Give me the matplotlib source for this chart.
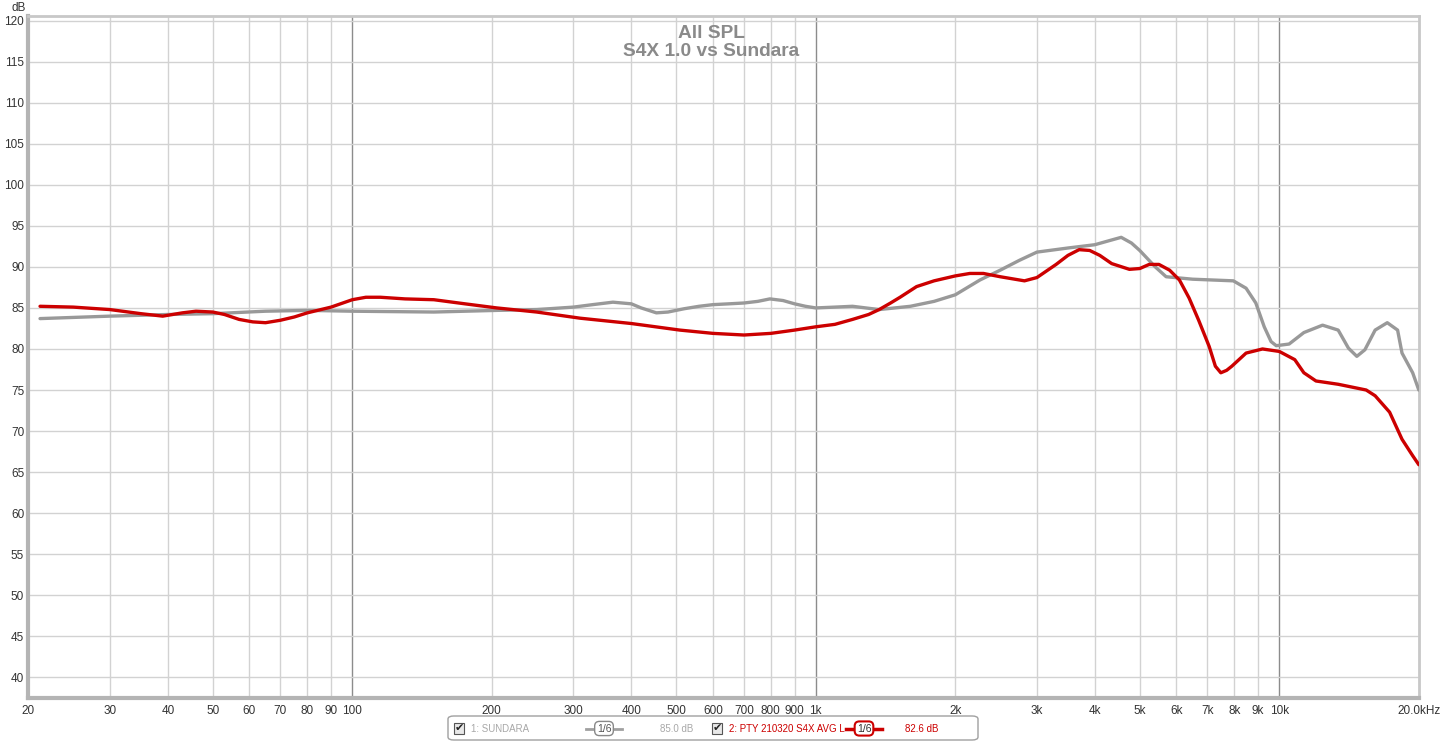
import matplotlib.pyplot as plt
from matplotlib.patches import FancyBboxPatch, Rectangle
from matplotlib.lines import Line2D
from matplotlib.ticker import FixedLocator, NullLocator

plt.rcParams["font.family"] = ["Liberation Sans", "DejaVu Sans"]

# PTY S4X (red)
red_freq = [21.2, 25, 30, 35, 39, 43, 46, 50, 53, 57, 61, 65, 70, 75, 80, 90,
            100, 107, 115, 130, 150, 175, 205, 250, 310, 400, 509, 600, 700,
            800, 900, 1000, 1100, 1200, 1300, 1370, 1450, 1520, 1650, 1800,
            2000, 2150, 2300, 2500, 2820, 3000, 3300, 3500, 3700, 3900, 4100,
            4350, 4750, 5000, 5240, 5500, 5800, 6090, 6390, 6700, 7060, 7280,
            7480, 7700, 7900, 8480, 9200, 10000, 10800, 11300, 12000, 13400,
            15400, 16100, 17300, 18400, 19400, 20000]
red_db = [85.2, 85.1, 84.8, 84.3, 84.0, 84.4, 84.6, 84.5, 84.2, 83.6, 83.3,
          83.2, 83.5, 83.9, 84.4, 85.1, 86.0, 86.3, 86.3, 86.1, 86.0, 85.5,
          85.0, 84.5, 83.75, 83.1, 82.3, 81.9, 81.7, 81.9, 82.3, 82.7, 83.0,
          83.6, 84.2, 84.8, 85.6, 86.3, 87.6, 88.3, 88.9, 89.2, 89.2, 88.8,
          88.3, 88.7, 90.3, 91.4, 92.1, 92.0, 91.4, 90.4, 89.7, 89.8, 90.3,
          90.3, 89.6, 88.4, 86.2, 83.5, 80.3, 77.9, 77.1, 77.4, 77.9, 79.5,
          80.0, 79.7, 78.7, 77.1, 76.1, 75.7, 75.0, 74.3, 72.3, 69.0, 67.0,
          65.9]

# Sundara (gray)
gray_freq = [21.2, 30, 40, 50, 65, 80, 100, 150, 205, 250, 300, 330, 365, 400,
             420, 453, 480, 520, 560, 600, 650, 700, 750, 796, 850, 900, 950,
             1000, 1100, 1200, 1370, 1600, 1800, 2000, 2260, 2500, 2750, 3000,
             3500, 4000, 4300, 4560, 4800, 5000, 5400, 5700, 6500, 7960, 8480,
             8900, 9280, 9600, 9850, 10500, 11300, 12400, 13400, 14100, 14700,
             15300, 16100, 17100, 18000, 18400, 19400, 20000]
gray_db = [83.7, 84.0, 84.2, 84.3, 84.6, 84.7, 84.6, 84.5, 84.7, 84.8, 85.1,
           85.4, 85.7, 85.5, 85.0, 84.4, 84.5, 84.9, 85.2, 85.4, 85.5, 85.6,
           85.8, 86.1, 85.9, 85.5, 85.2, 85.0, 85.1, 85.2, 84.8, 85.2, 85.8,
           86.6, 88.4, 89.6, 90.8, 91.8, 92.3, 92.7, 93.2, 93.6, 92.9, 92.0,
           90.0, 88.8, 88.5, 88.3, 87.4, 85.6, 82.7, 80.9, 80.4, 80.6, 82.0,
           82.9, 82.3, 80.1, 79.1, 79.9, 82.3, 83.2, 82.3, 79.5, 77.1, 75.0]

x_ticks = [20, 30, 40, 50, 60, 70, 80, 90, 100, 200, 300, 400, 500, 600, 700,
           800, 900, 1000, 2000, 3000, 4000, 5000, 6000, 7000, 8000, 9000,
           10000, 20000]
x_labels = ["20", "30", "40", "50", "60", "70", "80", "90", "100", "200", "300",
            "400", "500", "600", "700", "800", "900", "1k", "2k", "3k", "4k",
            "5k", "6k", "7k", "8k", "9k", "10k", "20.0kHz"]
y_ticks = list(range(40, 121, 5))

W, H = 1455, 743
fig = plt.figure(figsize=(W / 100, H / 100), dpi=100)
ax = fig.add_axes([28.3 / W, 45 / H, (1418.8 - 28.3) / W, (698 - 15.7) / H])

ax.set_xscale("log")
ax.set_xlim(20, 20000)
ax.set_ylim(37.48, 120.6)

for f in x_ticks[:-1]:
    if f in (100, 1000, 10000):
        ax.axvline(f, color="#8c8c8c", lw=1.0, zorder=1)
    else:
        ax.axvline(f, color="#d2d2d2", lw=1.0, zorder=1)
for y in y_ticks:
    ax.axhline(y, color="#d2d2d2", lw=1.0, zorder=1)

ax.plot(gray_freq, gray_db, color="#999999", lw=2.4, zorder=3,
        solid_joinstyle="round", solid_capstyle="round")
ax.plot(red_freq, red_db, color="#cc0000", lw=2.4, zorder=4,
        solid_joinstyle="round", solid_capstyle="round")

ax.xaxis.set_major_locator(FixedLocator(x_ticks))
ax.set_xticklabels(x_labels)
ax.xaxis.set_minor_locator(NullLocator())
ax.set_yticks(y_ticks)
ax.tick_params(axis="both", length=0, labelsize=8.5, colors="#333333")
ax.tick_params(axis="x", pad=5)
ax.tick_params(axis="y", pad=3)

for s in ("top", "right"):
    ax.spines[s].set_color("#c8c8c8")
    ax.spines[s].set_linewidth(2)
for s in ("left", "bottom"):
    ax.spines[s].set_color("#b4b4b4")
    ax.spines[s].set_linewidth(3)

fig.text(12 / W, 1 - 8 / H, "dB", fontsize=8.5, color="#333333",
         ha="left", va="center")

ax.text(0.491, 0.987, "All SPL\nS4X 1.0 vs Sundara", transform=ax.transAxes,
        ha="center", va="top", fontsize=13.8, color="#8a8a8a",
        fontweight="bold", linespacing=1.12, zorder=5)


# legend bar
def fx(px):
    return px / W


def fy(py):
    return 1 - py / H


fig.add_artist(FancyBboxPatch((fx(448), fy(740)), fx(978) - fx(448),
                              fy(716) - fy(740),
                              boxstyle="round,pad=0,rounding_size=0.004",
                              transform=fig.transFigure, fc="white",
                              ec="#a0a0a0", lw=1))

for bx in (454, 712):
    fig.add_artist(Rectangle((fx(bx), fy(734)), fx(bx + 10) - fx(bx),
                             fy(723) - fy(734), transform=fig.transFigure,
                             fc="#e8e8e8", ec="#555555", lw=0.8))
    fig.text(fx(bx + 5.5), fy(728.5), "\u2714", fontsize=8, color="#222222",
             ha="center", va="center", family=["DejaVu Sans"])

fig.text(fx(471), fy(728.5), "1: SUNDARA", fontsize=7, color="#a8a8a8",
         ha="left", va="center")
fig.add_artist(Line2D([fx(586), fx(622)], [fy(728.5), fy(728.5)],
                      transform=fig.transFigure, color="#a0a0a0", lw=2))
fig.text(fx(604), fy(728.5), "1/6", fontsize=7.5, color="#555555",
         ha="center", va="center",
         bbox=dict(boxstyle="round,pad=0.2,rounding_size=0.45", fc="white",
                   ec="#888888", lw=1))
fig.text(fx(660), fy(728.5), "85.0 dB", fontsize=7, color="#a8a8a8",
         ha="left", va="center")

fig.text(fx(729), fy(728.5), "2: PTY 210320 S4X AVG L", fontsize=7,
         color="#cc0000", ha="left", va="center")
fig.add_artist(Line2D([fx(846), fx(882)], [fy(728.5), fy(728.5)],
                      transform=fig.transFigure, color="#cc0000", lw=2.5))
fig.text(fx(864), fy(728.5), "1/6", fontsize=7.5, color="#333333",
         ha="center", va="center",
         bbox=dict(boxstyle="round,pad=0.2,rounding_size=0.45", fc="white",
                   ec="#cc0000", lw=1.5))
fig.text(fx(905), fy(728.5), "82.6 dB", fontsize=7, color="#cc0000",
         ha="left", va="center")

fig.savefig("out.png", dpi=100)
